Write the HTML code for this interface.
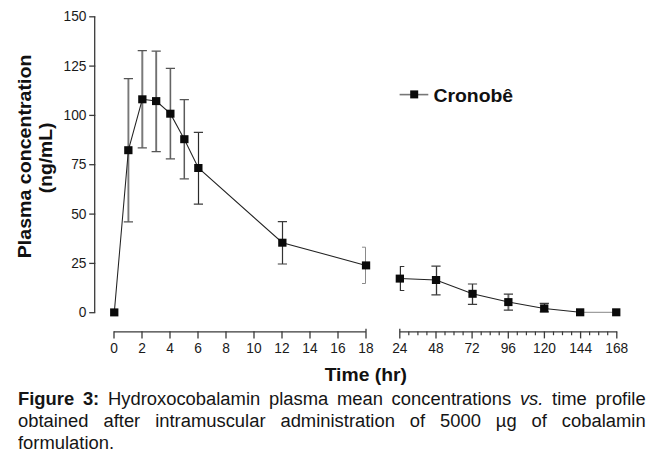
<!DOCTYPE html>
<html><head><meta charset="utf-8">
<style>
html,body{margin:0;padding:0;background:#fff;}
body{width:658px;height:462px;position:relative;overflow:hidden;font-family:"Liberation Sans",sans-serif;}
svg text{font-family:"Liberation Sans",sans-serif;fill:#1a1a1a;}
.tk{font-size:14.1px;}
.bd{font-size:18.2px;font-weight:bold;fill:#111;}
.cap{position:absolute;left:18px;top:388.1px;width:600.6px;font-size:17.6px;line-height:22px;color:#151515;text-align:justify;transform:scaleX(1.045);transform-origin:0 0;}
</style></head><body>
<svg width="658" height="385" viewBox="0 0 658 385" style="position:absolute;left:0;top:0">
<path d="M128.4 78.7V221.8" fill="none" stroke="#787878" stroke-width="1.9"/>
<path d="M123.8 78.7H133.0M123.8 221.8H133.0" fill="none" stroke="#555" stroke-width="1.2"/>
<path d="M142.3 50.6V147.8" fill="none" stroke="#7a7a7a" stroke-width="2.0"/>
<path d="M137.7 50.6H146.9M137.7 147.8H146.9" fill="none" stroke="#555" stroke-width="1.2"/>
<path d="M156.2 51.2V151.6" fill="none" stroke="#707070" stroke-width="1.9"/>
<path d="M151.6 51.2H160.8M151.6 151.6H160.8" fill="none" stroke="#555" stroke-width="1.2"/>
<path d="M170.4 68.3V158.9" fill="none" stroke="#646464" stroke-width="1.6"/>
<path d="M165.8 68.3H175.0M165.8 158.9H175.0" fill="none" stroke="#555" stroke-width="1.2"/>
<path d="M184.3 99.7V178.8" fill="none" stroke="#5a5a5a" stroke-width="1.5"/>
<path d="M179.7 99.7H188.9M179.7 178.8H188.9" fill="none" stroke="#555" stroke-width="1.2"/>
<path d="M198.5 132.3V204.1" fill="none" stroke="#2a2a2a" stroke-width="1.2"/>
<path d="M193.8 132.3H203.0M193.8 204.1H203.0" fill="none" stroke="#3c3c3c" stroke-width="1.2"/>
<path d="M282.5 221.7V264.0" fill="none" stroke="#333" stroke-width="1.2"/>
<path d="M277.8 221.7H287.0M277.8 264.0H287.0" fill="none" stroke="#3c3c3c" stroke-width="1.2"/>
<path d="M362.0 247.2H365.5V283.5H362.0" fill="none" stroke="#8a8a8a" stroke-width="1.0"/>
<path d="M404.3 266.5H400.4V290.5H404.3" fill="none" stroke="#333" stroke-width="1.2"/>
<path d="M436.5 266.2V294.9" fill="none" stroke="#333" stroke-width="1.3"/>
<path d="M431.4 266.2H440.6M431.4 294.9H440.6" fill="none" stroke="#3c3c3c" stroke-width="1.2"/>
<path d="M472.5 284.0V304.3" fill="none" stroke="#333" stroke-width="1.3"/>
<path d="M467.9 284.0H477.1M467.9 304.3H477.1" fill="none" stroke="#3c3c3c" stroke-width="1.2"/>
<path d="M508.4 294.1V310.2" fill="none" stroke="#6a6a6a" stroke-width="1.9"/>
<path d="M503.8 294.1H513.0M503.8 310.2H513.0" fill="none" stroke="#3c3c3c" stroke-width="1.2"/>
<path d="M544.5 303.3V311.9" fill="none" stroke="#333" stroke-width="1.3"/>
<path d="M539.7 303.3H548.9M539.7 311.9H548.9" fill="none" stroke="#3c3c3c" stroke-width="1.2"/>
<path d="M114.3 312.4 L128.4 150.2 L142.3 99.3 L156.2 101.1 L170.4 113.7 L184.3 139.2 L198.4 168.0 L282.4 242.7 L366.0 265.4" fill="none" stroke="#222" stroke-width="1.05"/>
<path d="M399.8 278.6 L436.0 280.0 L472.5 293.8 L508.4 302.1 L544.3 308.4 L580.1 312.3" fill="none" stroke="#222" stroke-width="1.05"/>
<path d="M580.1 312.3L616.3 312.3" fill="none" stroke="#888" stroke-width="1"/>
<rect x="110.1" y="308.4" width="8.3" height="8" fill="#0a0a0a"/>
<rect x="124.2" y="146.2" width="8.3" height="8" fill="#0a0a0a"/>
<rect x="138.2" y="95.3" width="8.3" height="8" fill="#0a0a0a"/>
<rect x="152.0" y="97.1" width="8.3" height="8" fill="#0a0a0a"/>
<rect x="166.2" y="109.7" width="8.3" height="8" fill="#0a0a0a"/>
<rect x="180.2" y="135.2" width="8.3" height="8" fill="#0a0a0a"/>
<rect x="194.2" y="164.0" width="8.3" height="8" fill="#0a0a0a"/>
<rect x="278.2" y="238.7" width="8.3" height="8" fill="#0a0a0a"/>
<rect x="361.9" y="261.4" width="8.3" height="8" fill="#0a0a0a"/>
<rect x="395.7" y="274.6" width="8.3" height="8" fill="#0a0a0a"/>
<rect x="431.9" y="276.0" width="8.3" height="8" fill="#0a0a0a"/>
<rect x="468.4" y="289.8" width="8.3" height="8" fill="#0a0a0a"/>
<rect x="504.2" y="298.1" width="8.3" height="8" fill="#0a0a0a"/>
<rect x="540.1" y="304.4" width="8.3" height="8" fill="#0a0a0a"/>
<rect x="576.0" y="308.3" width="8.3" height="8" fill="#0a0a0a"/>
<rect x="612.1" y="308.3" width="8.3" height="8" fill="#0a0a0a"/>
<path d="M94.7 16.6V312.6" stroke="#3a3a3a" stroke-width="1.3" fill="none"/>
<path d="M89.2 312.7H95.3" stroke="#3a3a3a" stroke-width="1.3" fill="none"/>
<text transform="translate(86.50 317.30) scale(0.975 1)" text-anchor="end" class="tk">0</text>
<path d="M89.2 263.4H95.3" stroke="#3a3a3a" stroke-width="1.3" fill="none"/>
<text transform="translate(86.50 267.98) scale(0.975 1)" text-anchor="end" class="tk">25</text>
<path d="M89.2 214.1H95.3" stroke="#3a3a3a" stroke-width="1.3" fill="none"/>
<text transform="translate(86.50 218.66) scale(0.975 1)" text-anchor="end" class="tk">50</text>
<path d="M89.2 164.7H95.3" stroke="#3a3a3a" stroke-width="1.3" fill="none"/>
<text transform="translate(86.50 169.34) scale(0.975 1)" text-anchor="end" class="tk">75</text>
<path d="M89.2 115.4H95.3" stroke="#3a3a3a" stroke-width="1.3" fill="none"/>
<text transform="translate(86.50 120.02) scale(0.975 1)" text-anchor="end" class="tk">100</text>
<path d="M89.2 66.1H95.3" stroke="#3a3a3a" stroke-width="1.3" fill="none"/>
<text transform="translate(86.50 70.70) scale(0.975 1)" text-anchor="end" class="tk">125</text>
<path d="M89.2 16.8H95.3" stroke="#3a3a3a" stroke-width="1.3" fill="none"/>
<text transform="translate(86.50 21.38) scale(0.975 1)" text-anchor="end" class="tk">150</text>
<path d="M113.9 331.8H365.9" stroke="#3a3a3a" stroke-width="1.3" fill="none"/>
<path d="M114.0 331.2V338.4" stroke="#3a3a3a" stroke-width="1.3" fill="none"/>
<text transform="translate(114.00 352.90) scale(0.975 1)" text-anchor="middle" class="tk">0</text>
<path d="M142.0 331.2V338.4" stroke="#3a3a3a" stroke-width="1.3" fill="none"/>
<text transform="translate(142.00 352.90) scale(0.975 1)" text-anchor="middle" class="tk">2</text>
<path d="M170.0 331.2V338.4" stroke="#3a3a3a" stroke-width="1.3" fill="none"/>
<text transform="translate(170.00 352.90) scale(0.975 1)" text-anchor="middle" class="tk">4</text>
<path d="M198.0 331.2V338.4" stroke="#3a3a3a" stroke-width="1.3" fill="none"/>
<text transform="translate(198.00 352.90) scale(0.975 1)" text-anchor="middle" class="tk">6</text>
<path d="M226.0 331.2V338.4" stroke="#3a3a3a" stroke-width="1.3" fill="none"/>
<text transform="translate(226.00 352.90) scale(0.975 1)" text-anchor="middle" class="tk">8</text>
<path d="M254.0 331.2V338.4" stroke="#3a3a3a" stroke-width="1.3" fill="none"/>
<text transform="translate(254.00 352.90) scale(0.975 1)" text-anchor="middle" class="tk">10</text>
<path d="M282.0 331.2V338.4" stroke="#3a3a3a" stroke-width="1.3" fill="none"/>
<text transform="translate(282.00 352.90) scale(0.975 1)" text-anchor="middle" class="tk">12</text>
<path d="M310.0 331.2V338.4" stroke="#3a3a3a" stroke-width="1.3" fill="none"/>
<text transform="translate(310.00 352.90) scale(0.975 1)" text-anchor="middle" class="tk">14</text>
<path d="M338.0 331.2V338.4" stroke="#3a3a3a" stroke-width="1.3" fill="none"/>
<text transform="translate(338.00 352.90) scale(0.975 1)" text-anchor="middle" class="tk">16</text>
<path d="M366.0 328.8V338.4" stroke="#3a3a3a" stroke-width="1.3" fill="none"/>
<text transform="translate(366.00 352.90) scale(0.975 1)" text-anchor="middle" class="tk">18</text>
<path d="M399.7 331.8H617.2" stroke="#3a3a3a" stroke-width="1.3" fill="none"/>
<path d="M399.8 328.8V338.4" stroke="#3a3a3a" stroke-width="1.3" fill="none"/>
<text transform="translate(399.80 352.90) scale(0.975 1)" text-anchor="middle" class="tk">24</text>
<path d="M408.8 331.4V335.2" stroke="#3a3a3a" stroke-width="1.2" fill="none"/>
<path d="M417.9 331.4V335.2" stroke="#3a3a3a" stroke-width="1.2" fill="none"/>
<path d="M426.9 331.4V335.2" stroke="#3a3a3a" stroke-width="1.2" fill="none"/>
<path d="M436.0 331.4V338.4" stroke="#3a3a3a" stroke-width="1.3" fill="none"/>
<text transform="translate(435.96 352.90) scale(0.975 1)" text-anchor="middle" class="tk">48</text>
<path d="M445.0 331.4V335.2" stroke="#3a3a3a" stroke-width="1.2" fill="none"/>
<path d="M454.0 331.4V335.2" stroke="#3a3a3a" stroke-width="1.2" fill="none"/>
<path d="M463.1 331.4V335.2" stroke="#3a3a3a" stroke-width="1.2" fill="none"/>
<path d="M472.1 331.4V338.4" stroke="#3a3a3a" stroke-width="1.3" fill="none"/>
<text transform="translate(472.12 352.90) scale(0.975 1)" text-anchor="middle" class="tk">72</text>
<path d="M481.2 331.4V335.2" stroke="#3a3a3a" stroke-width="1.2" fill="none"/>
<path d="M490.2 331.4V335.2" stroke="#3a3a3a" stroke-width="1.2" fill="none"/>
<path d="M499.2 331.4V335.2" stroke="#3a3a3a" stroke-width="1.2" fill="none"/>
<path d="M508.3 331.4V338.4" stroke="#3a3a3a" stroke-width="1.3" fill="none"/>
<text transform="translate(508.28 352.90) scale(0.975 1)" text-anchor="middle" class="tk">96</text>
<path d="M517.3 331.4V335.2" stroke="#3a3a3a" stroke-width="1.2" fill="none"/>
<path d="M526.4 331.4V335.2" stroke="#3a3a3a" stroke-width="1.2" fill="none"/>
<path d="M535.4 331.4V335.2" stroke="#3a3a3a" stroke-width="1.2" fill="none"/>
<path d="M544.4 331.4V338.4" stroke="#3a3a3a" stroke-width="1.3" fill="none"/>
<text transform="translate(544.44 352.90) scale(0.975 1)" text-anchor="middle" class="tk">120</text>
<path d="M553.5 331.4V335.2" stroke="#3a3a3a" stroke-width="1.2" fill="none"/>
<path d="M562.5 331.4V335.2" stroke="#3a3a3a" stroke-width="1.2" fill="none"/>
<path d="M571.6 331.4V335.2" stroke="#3a3a3a" stroke-width="1.2" fill="none"/>
<path d="M580.6 331.4V338.4" stroke="#3a3a3a" stroke-width="1.3" fill="none"/>
<text transform="translate(580.60 352.90) scale(0.975 1)" text-anchor="middle" class="tk">144</text>
<path d="M589.6 331.4V335.2" stroke="#3a3a3a" stroke-width="1.2" fill="none"/>
<path d="M598.7 331.4V335.2" stroke="#3a3a3a" stroke-width="1.2" fill="none"/>
<path d="M607.7 331.4V335.2" stroke="#3a3a3a" stroke-width="1.2" fill="none"/>
<path d="M616.8 331.4V338.4" stroke="#3a3a3a" stroke-width="1.3" fill="none"/>
<text transform="translate(616.76 352.90) scale(0.975 1)" text-anchor="middle" class="tk">168</text>
<path d="M399.6 94.6H428.3" stroke="#777" stroke-width="1.6" fill="none"/>
<rect x="410.2" y="90.4" width="8" height="8" fill="#0a0a0a"/>
<text transform="translate(433.40 101.70) scale(1.066 1)" text-anchor="start" class="bd">Cronobê</text>
<text transform="translate(365.80 380.80) scale(1.062 1)" text-anchor="middle" class="bd">Time (hr)</text>
<text transform="translate(31.30 156.40) rotate(-90) scale(1.077 1)" text-anchor="middle" class="bd">Plasma concentration</text>
<text transform="translate(51.80 157.90) rotate(-90) scale(1.058 1)" text-anchor="middle" class="bd">(ng/mL)</text>
</svg>
<div class="cap"><b>Figure 3:</b> Hydroxocobalamin plasma mean concentrations <i>vs.</i> time profile obtained after intramuscular administration of 5000 µg of cobalamin formulation.</div>
</body></html>
